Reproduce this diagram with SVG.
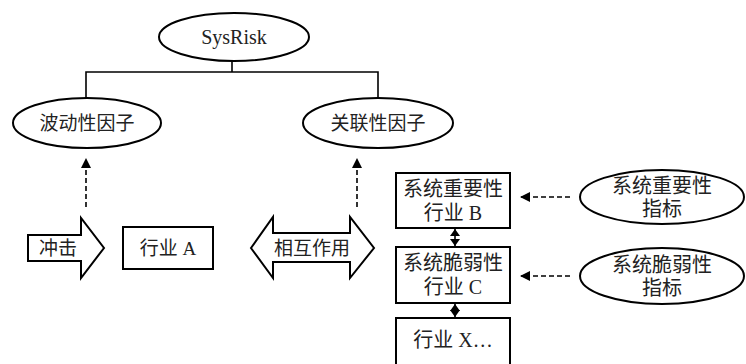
<svg xmlns="http://www.w3.org/2000/svg" width="746" height="364" viewBox="0 0 746 364">
<defs>
<style>
.s{fill:#fff;stroke:#000;stroke-width:2}
.l{fill:none;stroke:#000;stroke-width:1.6}
.d{fill:none;stroke:#000;stroke-width:1.6;stroke-dasharray:5,3}
text{font-family:"Liberation Serif","Noto Sans CJK SC",serif;font-size:19px;fill:#222;text-anchor:middle}
.b{font-size:20px}
</style>
<marker id="ah" viewBox="0 0 10 10" refX="9" refY="5" markerWidth="10" markerHeight="10" markerUnits="userSpaceOnUse" orient="auto-start-reverse">
<path d="M0,0 L10,5 L0,10 Z" fill="#000"/>
</marker>
<marker id="sh" viewBox="0 0 7 10" refX="7" refY="5" markerWidth="7" markerHeight="10" markerUnits="userSpaceOnUse" orient="auto-start-reverse">
<path d="M0,0 L7,5 L0,10 Z" fill="#000"/>
</marker>
</defs>
<rect width="746" height="364" fill="#fff"/>
<g id="connectors">
<path class="l" d="M232,61 V72 M86,98 V72 H378 V98"/>
<path class="d" d="M86,207 V159" marker-end="url(#ah)"/>
<path class="d" d="M357,207 V159" marker-end="url(#ah)"/>
<path class="d" d="M570,197 H521" marker-end="url(#ah)"/>
<path class="d" d="M570,276 H521" marker-end="url(#ah)"/>
<path class="l" d="M455,229 V246" marker-start="url(#sh)" marker-end="url(#sh)"/>
<path class="l" d="M455,304 V317" marker-start="url(#sh)" marker-end="url(#sh)"/>
</g>
<g id="sysrisk">
<ellipse class="s" cx="234" cy="37" rx="75" ry="24"/>
<text class="b" x="234" y="44">SysRisk</text>
</g>
<g id="bodong">
<ellipse class="s" cx="87" cy="123" rx="74" ry="25"/>
<text x="87" y="130">波动性因子</text>
</g>
<g id="guanlian">
<ellipse class="s" cx="378" cy="123" rx="75" ry="25"/>
<text x="378" y="130">关联性因子</text>
</g>
<g id="chongji">
<path class="s" d="M28,235 H81 V218 L104,248 L81,278 V261 H28 Z"/>
<text x="58" y="255">冲击</text>
</g>
<g id="hangyeA">
<rect class="s" x="123" y="227" width="90" height="42"/>
<text x="168" y="255">行业 A</text>
</g>
<g id="xianghu">
<path class="s" d="M251,248 L273,217 V233 H350 V217 L374,248 L350,278 V262 H273 V278 Z"/>
<text x="312" y="255">相互作用</text>
</g>
<g id="hangyeB">
<rect class="s" x="396" y="173" width="114" height="55"/>
<text class="b" x="453" y="196">系统重要性</text>
<text class="b" x="453" y="220">行业 B</text>
</g>
<g id="hangyeC">
<rect class="s" x="396" y="247" width="114" height="56"/>
<text class="b" x="453" y="270">系统脆弱性</text>
<text class="b" x="453" y="294">行业 C</text>
</g>
<g id="hangyeX">
<rect class="s" x="396" y="318" width="114" height="50"/>
<text class="b" x="453" y="347">行业 X…</text>
</g>
<g id="zhongyao">
<ellipse class="s" cx="662" cy="197" rx="82" ry="27"/>
<text class="b" x="662" y="193">系统重要性</text>
<text class="b" x="662" y="216">指标</text>
</g>
<g id="cuiruo">
<ellipse class="s" cx="662" cy="276" rx="82" ry="28"/>
<text class="b" x="662" y="272">系统脆弱性</text>
<text class="b" x="662" y="295">指标</text>
</g>
</svg>
